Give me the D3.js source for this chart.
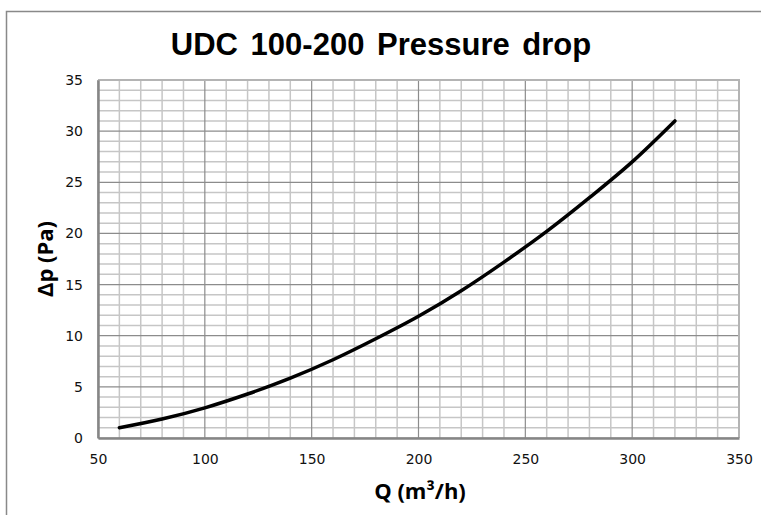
<!DOCTYPE html>
<html><head><meta charset="utf-8">
<script src="https://cdn.jsdelivr.net/npm/d3@7"></script>
<style>body{margin:0;background:#fff}svg{display:block}</style>
</head><body><svg id="c" width="761" height="515"></svg>
<script>
const flowQ = [60, 80, 100, 120, 140, 160, 180, 200, 220, 240, 260, 280, 300, 320];
const pressureDrop = [1.0, 1.85, 2.95, 4.3, 5.85, 7.65, 9.7, 11.9, 14.4, 17.2, 20.2, 23.5, 27.0, 31.0];
const xTicks = [50, 100, 150, 200, 250, 300, 350];
const yTicks = [0, 5, 10, 15, 20, 25, 30, 35];
const titleText = "UDC 100-200 Pressure drop";
const xTitle = "Q (m³/h)";
const yTitle = "Δp (Pa)";

const svg = d3.select("#c");
const L = 98, R = 739, T = 80, B = 438;
const x = d3.scaleLinear().domain([50, 350]).range([L, R]);
const y = d3.scaleLinear().domain([0, 35]).range([B, T]);

// chart area border
svg.append("path").attr("d", `M6.5,520 V11.5 H770`).attr("fill","none").attr("stroke","#898989").attr("stroke-width",1.5);

// minor grid
const g = svg.append("g");
const xMinor = d3.range(50, 351, 10).filter(v => v % 50 !== 0);
const yMinor = d3.range(0, 35.1, 1).filter(v => v % 5 !== 0);
g.selectAll("line.xm").data(xMinor).enter().append("line")
  .attr("x1", d => x(d)).attr("x2", d => x(d)).attr("y1", T).attr("y2", B)
  .attr("stroke", "#c6c6c6").attr("stroke-width", 1.5);
g.selectAll("line.ym").data(yMinor).enter().append("line")
  .attr("y1", d => y(d)).attr("y2", d => y(d)).attr("x1", L).attr("x2", R)
  .attr("stroke", "#c6c6c6").attr("stroke-width", 1.5);
// major grid
g.selectAll("line.xM").data(xTicks).enter().append("line")
  .attr("x1", d => x(d)).attr("x2", d => x(d)).attr("y1", T).attr("y2", B)
  .attr("stroke", "#8c8c8c").attr("stroke-width", 1.2);
g.selectAll("line.yM").data(yTicks).enter().append("line")
  .attr("y1", d => y(d)).attr("y2", d => y(d)).attr("x1", L).attr("x2", R)
  .attr("stroke", "#8c8c8c").attr("stroke-width", 1.2);
// top/right border
svg.append("path").attr("d", `M${L},${T} H${R} V${B}`).attr("fill","none").attr("stroke","#b4b4b4").attr("stroke-width",2);

// axes
const xAxis = d3.axisBottom(x).tickValues(xTicks).tickSize(0).tickPadding(16);
const yAxis = d3.axisLeft(y).tickValues(yTicks).tickSize(0).tickPadding(15);
const gx = svg.append("g").attr("transform", `translate(0,${B})`).call(xAxis);
const gy = svg.append("g").attr("transform", `translate(${L},0)`).call(yAxis);
[gx, gy].forEach(a => {
  a.select(".domain").attr("stroke", "#868686").attr("stroke-width", 2.5);
  a.selectAll("text").attr("font-family", "DejaVu Sans").attr("font-size", 14).attr("fill", "#111");
});

// curve
const line = d3.line().x((d, i) => x(flowQ[i])).y(d => y(d)).curve(d3.curveMonotoneX);
svg.append("path").datum(pressureDrop).attr("d", line)
  .attr("fill", "none").attr("stroke", "#000").attr("stroke-width", 3.5).attr("stroke-linecap", "round");

// titles
svg.append("text").attr("x", 381).attr("y", 55).attr("text-anchor", "middle")
  .attr("font-family", "Liberation Sans, Arial, sans-serif").attr("font-weight", "bold")
  .attr("font-size", 31).attr("word-spacing", 4).text(titleText);
svg.append("text").attr("x", 420).attr("y", 499).attr("text-anchor", "middle")
  .attr("font-family", "Open Sans, sans-serif").attr("font-weight", "bold")
  .attr("font-size", 22).text(xTitle);
svg.append("text").attr("transform", `translate(53,259) rotate(-90)`).attr("text-anchor", "middle")
  .attr("font-family", "Open Sans, sans-serif").attr("font-weight", "bold")
  .attr("font-size", 22).text(yTitle);
</script></body></html>
